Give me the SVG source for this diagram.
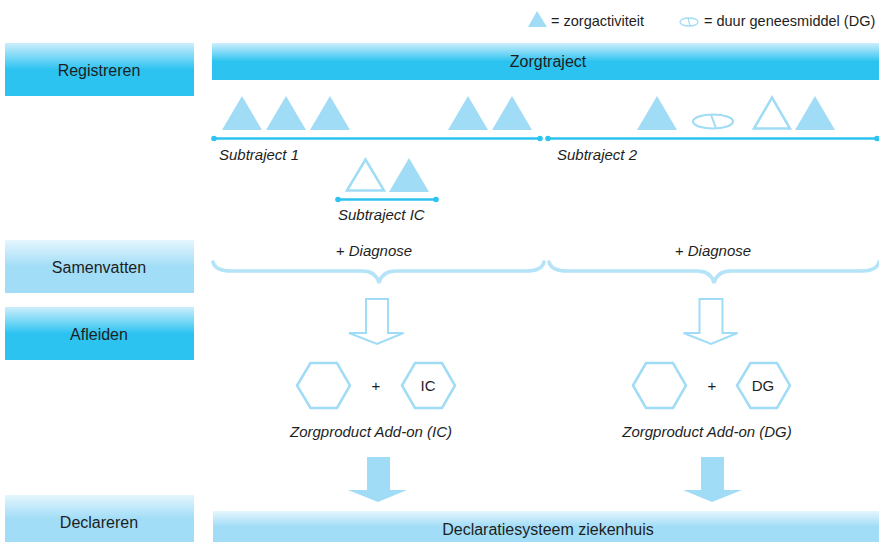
<svg xmlns="http://www.w3.org/2000/svg" width="879" height="542" viewBox="0 0 879 542">
<defs>
<linearGradient id="gDark" x1="0" y1="0" x2="0" y2="1">
<stop offset="0" stop-color="#cdeefc"/><stop offset="0.5" stop-color="#2dc3f1"/><stop offset="1" stop-color="#2dc3f1"/>
</linearGradient>
<linearGradient id="gLight" x1="0" y1="0" x2="0" y2="1">
<stop offset="0" stop-color="#e5f6fd"/><stop offset="0.5" stop-color="#a2ddf7"/><stop offset="1" stop-color="#a2ddf7"/>
</linearGradient>
<style>
text{font-family:"Liberation Sans",Arial,sans-serif;fill:#1e1e1e}
.lbl{font-size:16px;text-anchor:middle}
.it{font-style:italic;font-size:15px}
.leg{font-size:14.5px}
.tri{fill:#a0dcf6}
.tro{fill:none;stroke:#a0dcf6;stroke-width:2.5}
.hex{fill:none;stroke:#a0dcf6;stroke-width:2.5}
.ln{stroke:#2dc3f1;stroke-width:2.5}
.dot{fill:#2dc3f1}
.brace{fill:none;stroke:#b5e3f8;stroke-width:3.5;stroke-linecap:round}
.harr{fill:#fff;stroke:#a0dcf6;stroke-width:2}
.sarr{fill:#a0dcf6}
</style>
</defs>
<rect width="879" height="542" fill="#fff"/>

<g id="legend">
<polygon class="tri" points="528,27 537,11 547,27"/>
<text class="leg" x="551" y="26">= zorgactiviteit</text>
<ellipse cx="689" cy="22" rx="9" ry="4" fill="none" stroke="#a0dcf6" stroke-width="1.3"/>
<line x1="688" y1="18" x2="690" y2="26" stroke="#a0dcf6" stroke-width="1.2"/>
<text class="leg" x="704" y="26">= duur geneesmiddel (DG)</text>
</g>

<g id="registreren"><rect x="5" y="43" width="189" height="53" fill="url(#gDark)"/><text class="lbl" x="99" y="76">Registreren</text></g>
<g id="samenvatten"><rect x="5" y="240" width="189" height="53" fill="url(#gLight)"/><text class="lbl" x="99" y="273">Samenvatten</text></g>
<g id="afleiden"><rect x="5" y="307" width="189" height="53" fill="url(#gDark)"/><text class="lbl" x="99" y="340">Afleiden</text></g>
<g id="declareren"><rect x="5" y="495" width="189" height="47" fill="url(#gLight)"/><text class="lbl" x="99" y="528">Declareren</text></g>

<g id="zorgtraject"><rect x="212" y="43" width="667" height="37" fill="url(#gDark)"/><text class="lbl" x="548" y="67">Zorgtraject</text></g>
<g id="declaratiesysteem"><rect x="213" y="511" width="666" height="31" fill="url(#gLight)"/><text class="lbl" x="548" y="535">Declaratiesysteem ziekenhuis</text></g>

<g id="subtraject1">
<polygon class="tri" points="222,130 242,96 262,130"/>
<polygon class="tri" points="266,130 286,96 306,130"/>
<polygon class="tri" points="310,130 330,96 350,130"/>
<polygon class="tri" points="448,130 468,96 488,130"/>
<polygon class="tri" points="492,130 512,96 532,130"/>
<line class="ln" x1="214" y1="138.5" x2="540" y2="138.5"/>
<circle class="dot" cx="214" cy="138.5" r="2.8"/><circle class="dot" cx="540" cy="138.5" r="2.8"/>
<text class="it" x="219" y="160">Subtraject 1</text>
</g>

<g id="subtrajectIC">
<polygon class="tro" points="347,190.5 365.5,159.5 384,190.5"/>
<polygon class="tri" points="389,192 409,158 429,192"/>
<line class="ln" x1="338" y1="199.5" x2="436" y2="199.5"/>
<circle class="dot" cx="338" cy="199.5" r="2.8"/><circle class="dot" cx="436" cy="199.5" r="2.8"/>
<text class="it" x="338" y="220">Subtraject IC</text>
</g>

<g id="subtraject2">
<polygon class="tri" points="637,130 657,96 677,130"/>
<ellipse cx="713" cy="121.5" rx="20" ry="7" fill="none" stroke="#a0dcf6" stroke-width="2.2"/>
<line x1="711" y1="114.5" x2="716" y2="128.5" stroke="#a0dcf6" stroke-width="2"/>
<polygon class="tro" points="754,128.5 772,97.5 790,128.5"/>
<polygon class="tri" points="795,130 815,96 835,130"/>
<line class="ln" x1="548" y1="138.5" x2="878" y2="138.5"/>
<circle class="dot" cx="548" cy="138.5" r="2.8"/><circle class="dot" cx="877" cy="138.5" r="2.8"/>
<text class="it" x="557" y="160">Subtraject 2</text>
</g>

<g id="diagnose1">
<text class="it" x="374" y="256" text-anchor="middle">+ Diagnose</text>
</g>
<g id="diagnose2">
<text class="it" x="713" y="256" text-anchor="middle">+ Diagnose</text>
</g>

<g id="addonIC">
<polygon class="hex" points="297,385.5 310.5,363 337,363 350,385.5 337,408 310.5,408"/>
<text x="376" y="391" text-anchor="middle" style="font-size:15px">+</text>
<polygon class="hex" points="402,385.5 415,363 442,363 455,385.5 442,408 415,408"/>
<text x="428" y="391" text-anchor="middle" style="font-size:15px">IC</text>
<text class="it" x="371" y="437" text-anchor="middle">Zorgproduct Add-on (IC)</text>
</g>

<g id="addonDG">
<polygon class="hex" points="633,385.5 646,363 673,363 686,385.5 673,408 646,408"/>
<text x="712" y="391" text-anchor="middle" style="font-size:15px">+</text>
<polygon class="hex" points="737,385.5 750.5,363 777,363 790,385.5 777,408 750.5,408"/>
<text x="763" y="391" text-anchor="middle" style="font-size:15px">DG</text>
<text class="it" x="707" y="437" text-anchor="middle">Zorgproduct Add-on (DG)</text>
</g>

<g id="connectors">
<path class="brace" d="M213,262 Q215,271 232,271 L362,271 Q376,271 379,283 Q382,271 396,271 L526,271 Q542,271 544,262"/>
<path class="brace" d="M549,262 Q551,271 568,271 L697,271 Q711,271 714,283 Q717,271 731,271 L861,271 Q877,271 879,262"/>
<polygon class="harr" points="366,299 388,299 388,333 403.5,333 377,344 349,333 366,333"/>
<polygon class="harr" points="699.5,299 722.5,299 722.5,333 737.5,333 711,344 683.5,333 699.5,333"/>
<polygon class="sarr" points="367,457 390,457 390,490 407,490 378,502 348,490 367,490"/>
<polygon class="sarr" points="701,457 724,457 724,490 742,490 712,502 683,490 701,490"/>
</g>
</svg>
